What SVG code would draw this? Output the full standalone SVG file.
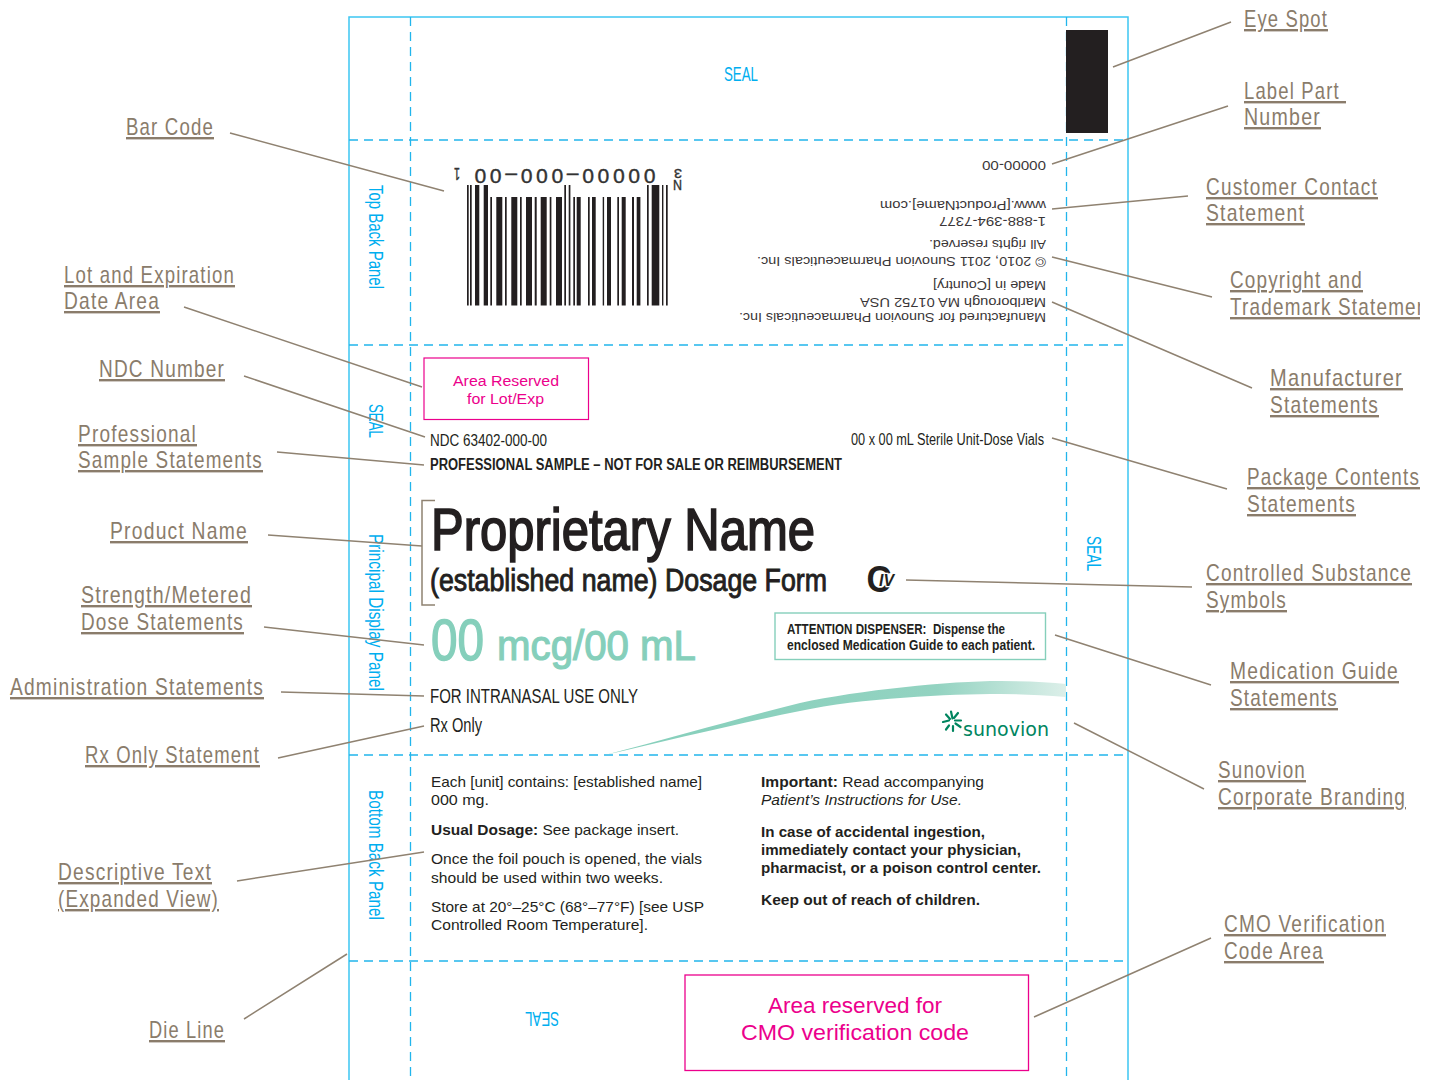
<svg xmlns="http://www.w3.org/2000/svg" width="1439" height="1080" viewBox="0 0 1439 1080">
<defs>
<linearGradient id="sw" gradientUnits="userSpaceOnUse" x1="605" y1="0" x2="1066" y2="0"><stop offset="0" stop-color="#85cfbb"/><stop offset="0.72" stop-color="#93d3c1"/><stop offset="1" stop-color="#dcefe9"/></linearGradient>
<clipPath id="pg"><rect x="0" y="0" width="1420" height="1080"/></clipPath>
</defs>
<style>
text{font-family:"Liberation Sans",Arial,sans-serif}
.lb{font-size:24px;fill:#8a7c6b;text-decoration:underline;letter-spacing:1.5px}
.ld{stroke:#8f8271;stroke-width:1.5;fill:none}
.cut{stroke:#3cc6f2;stroke-width:1.5;fill:none}
.fold{stroke:#22b5ec;stroke-width:1.3;fill:none;stroke-dasharray:9 6}
.cy{font-size:21px;fill:#00aeef}
.k{fill:#231f20}
.inv{font-size:13px;fill:#3a3637}
.b15{font-size:15px;fill:#231f20}
.b{font-weight:bold}
.pk{fill:#ec008c}
.gr{fill:#85cfbb}
.bar{fill:#231f20}
</style>
<rect width="1439" height="1080" fill="#fff"/>
<g id="dieline">
<path class="cut" d="M349 1080V17H1128V1080"/>
<path class="fold" d="M349 140H1128M349 345H1128M349 755H1128M349 961H1128"/>
<path class="fold" d="M410.500 17V1080M1066.500 17V1080"/>
</g>
<g id="panel-labels">
<text class="cy" x="724" y="81" textLength="34" lengthAdjust="spacingAndGlyphs">SEAL</text>
<text class="cy" transform="translate(369 185) rotate(90)" textLength="104" lengthAdjust="spacingAndGlyphs">Top Back Panel</text>
<text class="cy" transform="translate(369 404) rotate(90)" textLength="34" lengthAdjust="spacingAndGlyphs">SEAL</text>
<text class="cy" transform="translate(369 534) rotate(90)" textLength="157" lengthAdjust="spacingAndGlyphs">Principal Display Panel</text>
<text class="cy" transform="translate(369 790) rotate(90)" textLength="130" lengthAdjust="spacingAndGlyphs">Bottom Back Panel</text>
<text class="cy" transform="translate(1087 536) rotate(90)" textLength="35" lengthAdjust="spacingAndGlyphs">SEAL</text>
<text class="cy" transform="translate(559 1012) rotate(180)" textLength="34" lengthAdjust="spacingAndGlyphs">SEAL</text>
</g>
<rect id="eye-spot" x="1066" y="30" width="42" height="103" class="bar"/>
<g id="barcode" class="bar">
<rect x="467" y="185" width="1.7" height="120.5"/><rect x="470" y="185" width="1.7" height="120.5"/><rect x="475" y="185" width="4.3" height="120.5"/><rect x="483.7" y="185" width="4.3" height="120.5"/>
<rect x="490.3" y="197" width="1.7" height="108.5"/><rect x="496.3" y="197" width="6" height="108.5"/><rect x="505" y="197" width="1.7" height="108.5"/><rect x="511.3" y="197" width="6" height="108.5"/><rect x="520" y="197" width="1.7" height="108.5"/><rect x="526" y="197" width="6" height="108.5"/><rect x="534.7" y="197" width="2" height="108.5"/><rect x="540.7" y="197" width="6" height="108.5"/><rect x="549.7" y="197" width="1.7" height="108.5"/><rect x="556" y="197" width="6" height="108.5"/>
<rect x="564.3" y="185" width="1.7" height="120.5"/><rect x="568.7" y="185" width="1.7" height="120.5"/>
<rect x="573.3" y="197" width="1.7" height="108.5"/><rect x="576.7" y="197" width="4" height="108.5"/><rect x="588" y="197" width="1.7" height="108.5"/><rect x="592" y="197" width="3.7" height="108.5"/><rect x="602.7" y="197" width="1.4" height="108.5"/><rect x="607" y="197" width="4" height="108.5"/><rect x="617.3" y="197" width="1.7" height="108.5"/><rect x="621.7" y="197" width="4" height="108.5"/><rect x="632" y="197" width="2" height="108.5"/><rect x="636.7" y="197" width="3.7" height="108.5"/>
<rect x="647" y="185" width="1.7" height="120.5"/><rect x="651.7" y="185" width="7.6" height="120.5"/><rect x="662" y="185" width="1.4" height="120.5"/><rect x="666" y="185" width="1.7" height="120.5"/>
<g fill="#333" stroke="#333" stroke-width=".4">
<text transform="translate(655.5 168.500) rotate(180)" font-size="21" letter-spacing="5" textLength="186">00000–000–00</text>
<text transform="translate(460 168) rotate(180)" font-size="16" textLength="6" lengthAdjust="spacingAndGlyphs">1</text>
<text transform="translate(682 180) rotate(180)" font-size="14" textLength="9" lengthAdjust="spacingAndGlyphs">N</text>
<text transform="translate(682 169) rotate(180)" font-size="13" textLength="8" lengthAdjust="spacingAndGlyphs">3</text>
</g>
</g>
<g id="top-back-text">
<text class="inv" transform="translate(1046 161) rotate(180)" textLength="64" lengthAdjust="spacingAndGlyphs">00000-00</text>
<text class="inv" transform="translate(1046 201) rotate(180)" textLength="166" lengthAdjust="spacingAndGlyphs">www.[ProductName].com</text>
<text class="inv" transform="translate(1046 217) rotate(180)" textLength="107" lengthAdjust="spacingAndGlyphs">1-888-394-7377</text>
<text class="inv" transform="translate(1046 240) rotate(180)" textLength="117" lengthAdjust="spacingAndGlyphs">All rights reserved.</text>
<text class="inv" transform="translate(1046 257) rotate(180)" textLength="289" lengthAdjust="spacingAndGlyphs">© 2010, 2011 Sunovion Pharmaceuticals Inc.</text>
<text class="inv" transform="translate(1046 281) rotate(180)" textLength="113" lengthAdjust="spacingAndGlyphs">Made in [Country]</text>
<text class="inv" transform="translate(1046 298) rotate(180)" textLength="186" lengthAdjust="spacingAndGlyphs">Marlborough MA 01752 USA</text>
<text class="inv" transform="translate(1046 313) rotate(180)" textLength="307" lengthAdjust="spacingAndGlyphs">Manufactured for Sunovion Pharmaceuticals Inc.</text>
</g>
<g id="lot-area">
<rect x="424" y="358" width="164.500" height="61.500" fill="none" stroke="#ec008c" stroke-width="1.200"/>
<text class="pk" x="453" y="385.500" font-size="15.500" textLength="106" lengthAdjust="spacingAndGlyphs">Area Reserved</text>
<text class="pk" x="467" y="404" font-size="15.500" textLength="77" lengthAdjust="spacingAndGlyphs">for Lot/Exp</text>
</g>
<g id="principal-text">
<text class="k" x="430" y="445.500" font-size="16" textLength="117" lengthAdjust="spacingAndGlyphs">NDC 63402-000-00</text>
<text class="k" x="851" y="445" font-size="16" textLength="193" lengthAdjust="spacingAndGlyphs">00 x 00 mL Sterile Unit-Dose Vials</text>
<text class="k b" x="430" y="470" font-size="16" textLength="412" lengthAdjust="spacingAndGlyphs">PROFESSIONAL SAMPLE – NOT FOR SALE OR REIMBURSEMENT</text>
<text class="k" x="431" y="549.500" font-size="59" stroke="#231f20" stroke-width="1.700" textLength="384" lengthAdjust="spacingAndGlyphs">Proprietary Name</text>
<text class="k" x="430" y="590.500" font-size="30.500" stroke="#231f20" stroke-width=".9" textLength="397" lengthAdjust="spacingAndGlyphs">(established name) Dosage Form</text>
<text class="gr" x="431" y="659.500" font-size="57" stroke="#85cfbb" stroke-width="1.400" textLength="53" lengthAdjust="spacingAndGlyphs">00</text>
<text class="gr" x="497" y="660" font-size="43" stroke="#85cfbb" stroke-width="1.200" textLength="199" lengthAdjust="spacingAndGlyphs">mcg/00 mL</text>
<text class="k" x="430" y="703" font-size="20" textLength="208" lengthAdjust="spacingAndGlyphs">FOR INTRANASAL USE ONLY</text>
<text class="k" x="430" y="732" font-size="20" textLength="52" lengthAdjust="spacingAndGlyphs">Rx Only</text>
</g>
<g id="schedule-symbol">
<text class="k b" x="866.500" y="592" font-size="36" textLength="25" lengthAdjust="spacingAndGlyphs">C</text>
<text class="k b" x="879" y="585.500" font-size="16" font-style="italic" stroke="#fff" stroke-width="2.500" paint-order="stroke" textLength="15" lengthAdjust="spacingAndGlyphs">IV</text>
</g>
<g id="attention-box">
<rect x="775" y="613" width="270.500" height="46.500" fill="none" stroke="#85cfbb" stroke-width="1.400"/>
<text class="k b" x="787" y="634" font-size="15" textLength="218" lengthAdjust="spacingAndGlyphs" xml:space="preserve">ATTENTION DISPENSER:  Dispense the</text>
<text class="k b" x="787" y="650" font-size="15" textLength="248" lengthAdjust="spacingAndGlyphs">enclosed Medication Guide to each patient.</text>
</g>
<path id="swoosh" d="M605 755C670 738 740 718 800 703C860 690 950 681 1000 681Q1040 681 1066 684V697Q1030 694 1000 694C950 694 860 698 800 711C740 723 670 740 605 755Z" fill="url(#sw)"/>
<g id="logo">
<text x="963" y="736" font-size="20" fill="#00855f" textLength="86" lengthAdjust="spacingAndGlyphs" style="font-family:'DejaVu Sans',sans-serif">sunovion</text>
<path d="M951 711.500l1.500 7M958 713l-4 5M961 720.500l-6 0M960.500 727l-5-3.500M953 731l0-5M946 729.500l3-4M943 722l6-1.500M946 714.500l4 4.500" stroke="#00855f" stroke-width="2.200" fill="none" stroke-linecap="round"/>
</g>
<g id="bottom-left-text">
<text class="b15" x="431" y="787" textLength="271" lengthAdjust="spacingAndGlyphs">Each [unit] contains: [established name]</text>
<text class="b15" x="431" y="805" textLength="58" lengthAdjust="spacingAndGlyphs">000 mg.</text>
<text class="b15" x="431" y="835" textLength="248" lengthAdjust="spacingAndGlyphs"><tspan class="b">Usual Dosage:</tspan> See package insert.</text>
<text class="b15" x="431" y="864" textLength="271" lengthAdjust="spacingAndGlyphs">Once the foil pouch is opened, the vials</text>
<text class="b15" x="431" y="883" textLength="232" lengthAdjust="spacingAndGlyphs">should be used within two weeks.</text>
<text class="b15" x="431" y="912" textLength="273" lengthAdjust="spacingAndGlyphs">Store at 20°–25°C (68°–77°F) [see USP</text>
<text class="b15" x="431" y="930" textLength="217" lengthAdjust="spacingAndGlyphs">Controlled Room Temperature].</text>
</g>
<g id="bottom-right-text">
<text class="b15" x="761" y="787" textLength="223" lengthAdjust="spacingAndGlyphs"><tspan class="b">Important:</tspan> Read accompanying</text>
<text class="b15" x="761" y="805" font-style="italic" textLength="201" lengthAdjust="spacingAndGlyphs">Patient’s Instructions for Use.</text>
<text class="b15 b" x="761" y="837" textLength="224" lengthAdjust="spacingAndGlyphs">In case of accidental ingestion,</text>
<text class="b15 b" x="761" y="855" textLength="260" lengthAdjust="spacingAndGlyphs">immediately contact your physician,</text>
<text class="b15 b" x="761" y="873" textLength="280" lengthAdjust="spacingAndGlyphs">pharmacist, or a poison control center.</text>
<text class="b15 b" x="761" y="905" textLength="219" lengthAdjust="spacingAndGlyphs">Keep out of reach of children.</text>
</g>
<g id="cmo-area">
<rect x="685" y="975" width="343.500" height="95.500" fill="none" stroke="#ec008c" stroke-width="1.300"/>
<text class="pk" x="768" y="1013" font-size="22.500" textLength="174" lengthAdjust="spacingAndGlyphs">Area reserved for</text>
<text class="pk" x="741" y="1040" font-size="22.500" textLength="228" lengthAdjust="spacingAndGlyphs">CMO verification code</text>
</g>
<g id="connectors">
<path class="ld" d="M1113 67L1231 22M1052 164L1228 106M1052 209L1188 196M1052 257L1212 297M1052 302L1252 388M1052 438L1227 489M906 580L1192 587M1055 635L1211 685M1074 723L1204 789M1034 1017L1211 938"/>
<path class="ld" d="M230 133L444 191M184 307L422 387M244 376L425 437M277 452L424 465M268 535L422 546M264 627L424 645M281 692L424 696M278 758L424 726M237 881L424 852M244 1019L347 954"/>
<path class="ld" d="M435 500.500H422V605H435"/>
</g>
<g id="callouts">
<g id="c-eye"><text class="lb" x="1244" y="27" textLength="84" lengthAdjust="spacingAndGlyphs">Eye Spot</text></g>
<g id="c-labelpart"><text class="lb" x="1244" y="99" textLength="102" lengthAdjust="spacingAndGlyphs" xml:space="preserve">Label Part </text><text class="lb" x="1244" y="125" textLength="77" lengthAdjust="spacingAndGlyphs">Number</text></g>
<g id="c-customer"><text class="lb" x="1206" y="195" textLength="172" lengthAdjust="spacingAndGlyphs">Customer Contact</text><text class="lb" x="1206" y="221" textLength="99" lengthAdjust="spacingAndGlyphs">Statement</text></g>
<g id="c-copyright"><text class="lb" x="1230" y="288" textLength="133" lengthAdjust="spacingAndGlyphs">Copyright and</text><g clip-path="url(#pg)"><text class="lb" x="1230" y="315" textLength="205" lengthAdjust="spacingAndGlyphs">Trademark Statement</text></g></g>
<g id="c-manufacturer"><text class="lb" x="1270" y="386" textLength="133" lengthAdjust="spacingAndGlyphs">Manufacturer</text><text class="lb" x="1270" y="413" textLength="109" lengthAdjust="spacingAndGlyphs">Statements</text></g>
<g id="c-package"><text class="lb" x="1247" y="485" textLength="173" lengthAdjust="spacingAndGlyphs">Package Contents</text><text class="lb" x="1247" y="512" textLength="109" lengthAdjust="spacingAndGlyphs">Statements</text></g>
<g id="c-controlled"><text class="lb" x="1206" y="581" textLength="206" lengthAdjust="spacingAndGlyphs">Controlled Substance</text><text class="lb" x="1206" y="608" textLength="81" lengthAdjust="spacingAndGlyphs">Symbols</text></g>
<g id="c-medguide"><text class="lb" x="1230" y="679" textLength="169" lengthAdjust="spacingAndGlyphs">Medication Guide</text><text class="lb" x="1230" y="706" textLength="108" lengthAdjust="spacingAndGlyphs">Statements</text></g>
<g id="c-sunovion"><text class="lb" x="1218" y="778" textLength="88" lengthAdjust="spacingAndGlyphs">Sunovion</text><text class="lb" x="1218" y="805" textLength="188" lengthAdjust="spacingAndGlyphs">Corporate Branding</text></g>
<g id="c-cmo"><text class="lb" x="1224" y="932" textLength="162" lengthAdjust="spacingAndGlyphs">CMO Verification</text><text class="lb" x="1224" y="959" textLength="100" lengthAdjust="spacingAndGlyphs">Code Area</text></g>
<g id="c-barcode"><text class="lb" x="126" y="135" textLength="88" lengthAdjust="spacingAndGlyphs">Bar Code</text></g>
<g id="c-lot"><text class="lb" x="64" y="283" textLength="171" lengthAdjust="spacingAndGlyphs">Lot and Expiration</text><text class="lb" x="64" y="309" textLength="96" lengthAdjust="spacingAndGlyphs">Date Area</text></g>
<g id="c-ndc"><text class="lb" x="99" y="377" textLength="126" lengthAdjust="spacingAndGlyphs">NDC Number</text></g>
<g id="c-professional"><text class="lb" x="78" y="442" textLength="119" lengthAdjust="spacingAndGlyphs">Professional</text><text class="lb" x="78" y="468" textLength="185" lengthAdjust="spacingAndGlyphs">Sample Statements</text></g>
<g id="c-product"><text class="lb" x="110" y="539" textLength="138" lengthAdjust="spacingAndGlyphs">Product Name</text></g>
<g id="c-strength"><text class="lb" x="81" y="603" textLength="171" lengthAdjust="spacingAndGlyphs">Strength/Metered</text><text class="lb" x="81" y="630" textLength="163" lengthAdjust="spacingAndGlyphs">Dose Statements</text></g>
<g id="c-admin"><text class="lb" x="10" y="695" textLength="254" lengthAdjust="spacingAndGlyphs">Administration Statements</text></g>
<g id="c-rx"><text class="lb" x="85" y="763" textLength="175" lengthAdjust="spacingAndGlyphs">Rx Only Statement</text></g>
<g id="c-descriptive"><text class="lb" x="58" y="880" textLength="154" lengthAdjust="spacingAndGlyphs">Descriptive Text</text><text class="lb" x="58" y="907" textLength="161" lengthAdjust="spacingAndGlyphs">(Expanded View)</text></g>
<g id="c-die"><text class="lb" x="149" y="1038" textLength="76" lengthAdjust="spacingAndGlyphs">Die Line</text></g>
</g>
</svg>
